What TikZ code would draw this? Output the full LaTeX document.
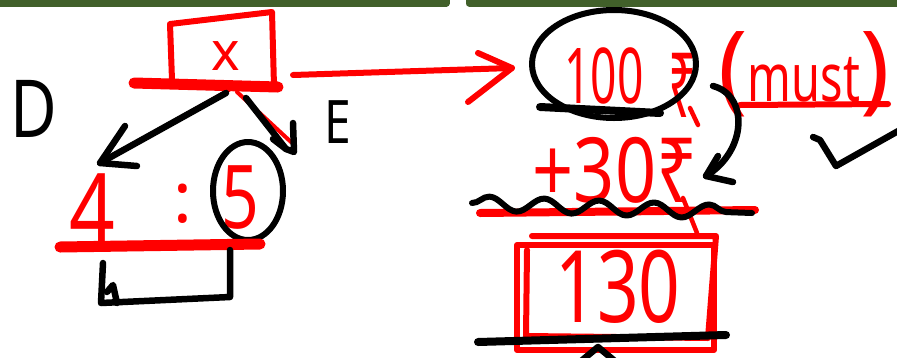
\documentclass[tikz,border=0pt]{standalone}
\usepackage{fontspec}
\setmainfont{Noto Sans}
\usetikzlibrary{decorations.pathmorphing}
\definecolor{ink}{HTML}{FF0000}
\definecolor{framegreen}{HTML}{41602A}
\begin{document}
\begin{tikzpicture}[x=1pt,y=-1pt,line cap=round,line join=round,
  redpen/.style={draw=ink,line width=6pt},
  blackpen/.style={draw=black,line width=6.5pt},
  redtxt/.style={text=ink,inner sep=0pt,anchor=base},
  blktxt/.style={text=black,inner sep=0pt,anchor=base},
  fs/.style={font=\fontsize{#1}{#1}\selectfont}]
\useasboundingbox (0,0) rectangle (897,357);

% edges of the two boards above
\draw[framegreen,line width=7pt] (-5,3) -- (446,3) -- (446,-5);
\draw[framegreen,line width=7pt] (469,-5) -- (469,3) -- (902,3);

% ---------- left: the quotient box ----------
\draw[redpen] (172,80) -- (170,24) -- (272,12) -- (274,86);
\draw[ink,line width=11pt] (134,83) -- (278,87);
\node[redtxt,fs=54] (xvar) at (226,70) {x};
\coordinate (root) at (229,90);

\node[blktxt,fs=80] (D) at (34,137) {\scalebox{0.8}[1]{D}};
\node[blktxt,fs=60] (E) at (338,143) {\scalebox{0.8}[1]{E}};

\node[redtxt,fs=100] (four) at (92,245) {\scalebox{0.8}[1]{4}};
\node[redtxt,fs=70] (colon) at (183,222) {:};
\node[redtxt,fs=88] (five) at (240,228) {\scalebox{0.75}[1]{5}};
\draw[black,line width=6pt] (248,191) ellipse [x radius=35,y radius=49];

\coordinate (dtip) at (100,163);
\coordinate (etip) at (286,149);
% branch towards D
\draw[ink,line width=4pt] (root) -- (106,160);
\draw[blackpen] (root) ++(-3,3) -- (dtip);
\draw[blackpen] (125,126) -- (dtip) -- (137,166);
% branch towards E
\draw[ink,line width=4pt] (root) ++(8,2) -- (291,142);
\draw[blackpen] (root) ++(17,8) -- (etip);
\draw[blackpen] (273,139) -- (etip) -- (294,152) -- (293,123);

% remainder bar and bracket
\draw[ink,line width=11pt] (60,247) -- (260,244);
\draw[blackpen] (103,263) -- (101,303) -- (230,297) -- (230,250);
\draw[blackpen] (107,292) -- (113,285) -- (117,303);

% ---------- right: the sum ----------
\node[redtxt,fs=77] (hundred) at (604,103) {\scalebox{0.6}[1]{100}};
\node[redtxt,fs=90] (rupeeA) at (683,117) {\scalebox{0.55}[1]{₹}};
\draw[ink,line width=4.5pt] (690,108) -- (698,125);
\draw[black,line width=6pt] (614,64) ellipse [x radius=82,y radius=54];
\draw[black,line width=8pt] (540,107) -- (660,113);

\node[redtxt] (must) at (804,101)
  {\fontsize{98}{98}\selectfont(\scalebox{0.7}[1]{\fontsize{67}{67}\selectfont must})};
\draw[redpen] (740,105) -- (888,104);

\coordinate (boxout) at (293,75);
\coordinate (sumin) at (512,68);
\draw[redpen] (boxout) -- (sumin);
\draw[redpen] (478,53) -- (sumin) -- (468,102);

\node[redtxt,fs=90] (thirty) at (615,202) {\scalebox{0.8}[1]{+30₹}};
\draw[ink,line width=4.5pt] (683,198) -- (697,233);

\coordinate (curvefrom) at (713,86);
\coordinate (curveto) at (706,176);
\draw[blackpen] (curvefrom) .. controls (748,95) and (748,150) .. (curveto);
\draw[blackpen] (718,156) -- (curveto) -- (733,182);

\draw[blackpen] (813,137) -- (820,140) -- (836,166) -- (900,130);

% line under the addends
\draw[ink,line width=8pt] (480,213) -- (755,210);
\draw[black,line width=6pt,decorate,
  decoration={snake,segment length=55pt,amplitude=7pt}] (472,203) -- (752,213);

% the total
\node[redtxt,fs=100] (total) at (618,322) {\scalebox{0.73}[1]{130}};
\draw[redpen] (517,245) rectangle (714,350);
\draw[redpen] (532,236) -- (716,236) -- (708,338) -- (526,336) -- (527,250);
\draw[black,line width=8pt] (478,342) -- (726,335);
\draw[blackpen] (580,362) -- (598,347) -- (616,362);
\end{tikzpicture}
\end{document}
